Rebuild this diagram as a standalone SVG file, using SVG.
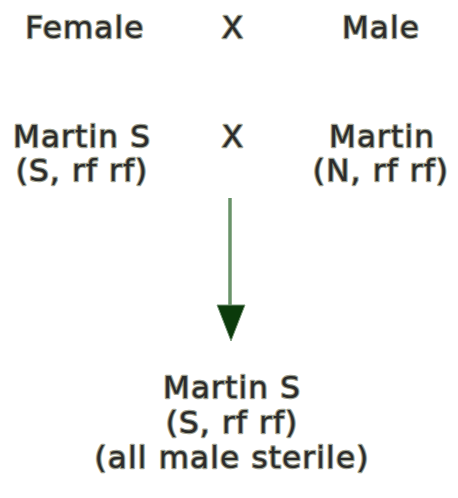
<svg xmlns="http://www.w3.org/2000/svg" width="458" height="498" viewBox="0 0 458 498">
<style>
text{font-family:"DejaVu Sans",Verdana,sans-serif;font-size:31px;letter-spacing:1.2px;fill:#2b2b2b;stroke:#9fa290;stroke-width:2.4;paint-order:stroke;text-anchor:middle;stroke-linejoin:round}
.shaft{stroke:#8fae8f;stroke-width:4}
.shaftc{stroke:#5d8a5d;stroke-width:1.5}
.head{fill:#0b3a0b;stroke:#7d9a7d;stroke-width:1}
</style>
<rect width="458" height="498" fill="#fff"/>
<g id="female"><text x="85" y="38">Female</text></g>
<g id="cross1"><text x="233" y="38">X</text></g>
<g id="male"><text x="381" y="38">Male</text></g>
<g id="martin-s-female"><text x="82" y="147">Martin S</text><text x="82" y="181">(S, rf rf)</text></g>
<g id="cross2"><text x="233" y="147">X</text></g>
<g id="martin-male"><text x="382" y="147">Martin</text><text x="381" y="181">(N, rf rf)</text></g>
<g id="connectors">
<line class="shaft" x1="230" y1="198" x2="230" y2="308"/>
<line class="shaftc" x1="230" y1="198" x2="230" y2="308"/>
<polygon class="head" points="217,305 245,305 231,341"/>
</g>
<g id="martin-s-offspring"><text x="232" y="398">Martin S</text><text x="232" y="433">(S, rf rf)</text><text x="232" y="468">(all male sterile)</text></g>
</svg>
